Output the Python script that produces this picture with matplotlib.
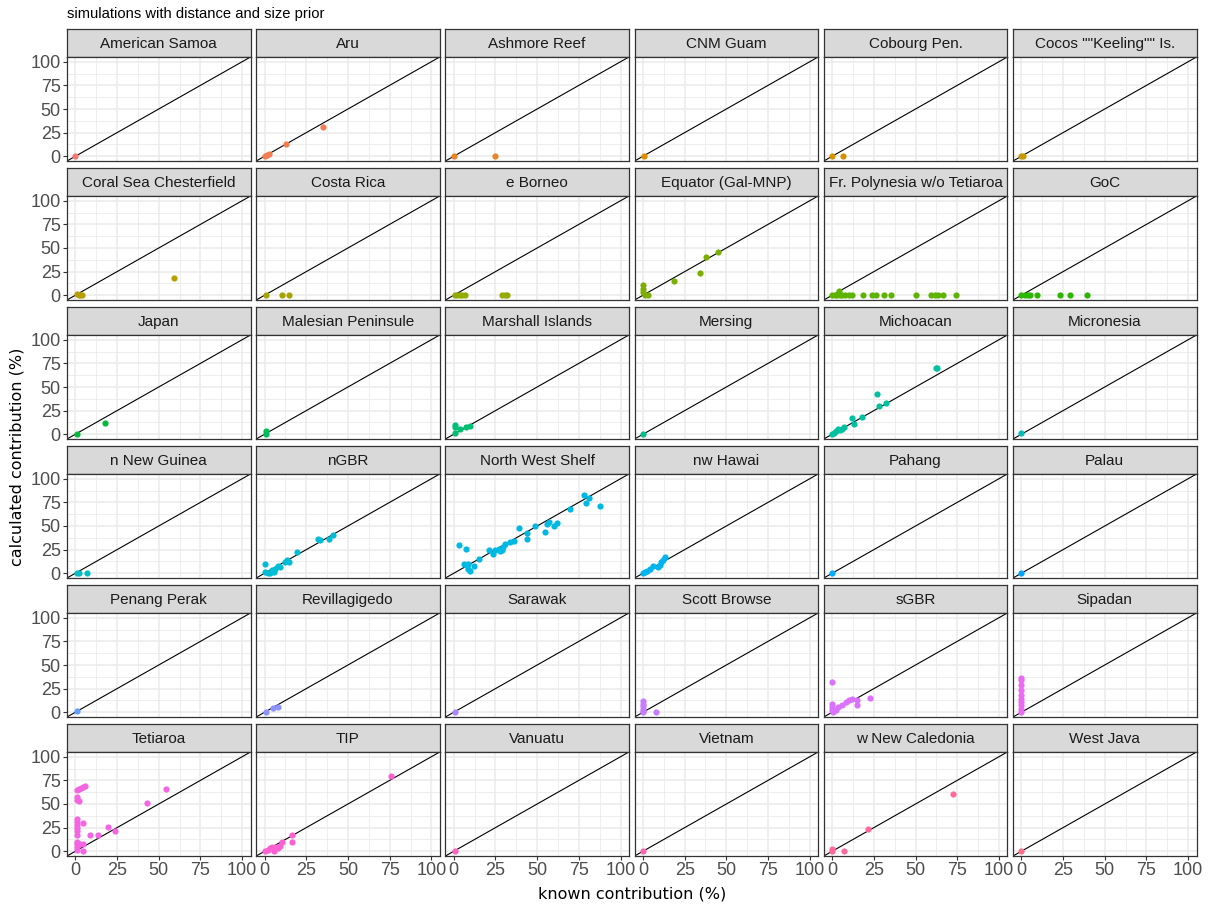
import numpy as np
from matplotlib import pyplot as plt

# facet names, in plotting order
sites = ["American Samoa", "Aru", "Ashmore Reef", "CNM Guam", "Cobourg Pen.", 'Cocos ""Keeling"" Is.',
         "Coral Sea Chesterfield", "Costa Rica", "e Borneo", "Equator (Gal-MNP)",
         "Fr. Polynesia w/o Tetiaroa", "GoC",
         "Japan", "Malesian Peninsule", "Marshall Islands", "Mersing", "Michoacan", "Micronesia",
         "n New Guinea", "nGBR", "North West Shelf", "nw Hawai", "Pahang", "Palau",
         "Penang Perak", "Revillagigedo", "Sarawak", "Scott Browse", "sGBR", "Sipadan",
         "Tetiaroa", "TIP", "Vanuatu", "Vietnam", "w New Caledonia", "West Java"]

# known contribution (%) per site
known_pct = [
    [0],
    [0.5, 1.5, 2.5, 13, 35],
    [0, 25],
    [0.5],
    [0, 6.5],
    [0, 1],
    [1, 2, 3, 4, 59],
    [1, 10.7, 14.5],
    [0.5, 2, 3.5, 5, 6.5, 29, 30.5, 32],
    [0.3, 0.3, 0.3, 1, 3, 18.8, 34, 37.6, 45],
    [0, 1.5, 3, 4.3, 4.5, 6, 8, 10, 12, 18.6, 24, 26.4, 31, 35, 50, 59, 61.4, 63.3, 66.4, 74.3],
    [0, 2, 4, 5, 9.5, 23.3, 29.3, 39.5],
    [0.7, 17.9],
    [0.7, 0.7],
    [0.5, 0.5, 0.5, 3.6, 7.1, 9.5],
    [0.3],
    [0, 1.4, 2.6, 3.8, 5, 6.2, 7.4, 11.9, 13.1, 17.6, 26.9, 28.3, 32.4, 62.4, 63],
    [0],
    [0.7, 2.4, 7],
    [0.5, 0.5, 2, 3.3, 4.5, 5.7, 6.2, 8, 9.3, 12.4, 13.3, 14.8, 19.3, 31.9, 33, 38.6, 41],
    [3.3, 7.1, 6.4, 7.6, 8.3, 9.5, 8.8, 12.4, 15, 21, 23.8, 25, 26.9, 27.9, 29, 29.8, 30.5,
     34, 36.4, 39.3, 44, 44, 48.8, 54.8, 56, 57, 60.2, 61.9, 69.5, 77.9, 79.3, 81, 87.4],
    [0, 1.2, 2.6, 4.3, 6, 9, 10, 10.7, 11.9, 13.1],
    [0],
    [0],
    [0.7],
    [0.7, 5, 8.3],
    [0.5],
    [0, 0, 0, 0, 0, 0, 8],
    [0, 0, 0, 0, 0.7, 2.6, 3.8, 5.7, 8.6, 10.2, 12.1, 15.2, 15.2, 22.9],
    [0, 0, 0, 0, 0, 0, 0, 0, 0, 0],
    [0.7, 2.1, 3.1, 4.3, 5.5, 0.7, 1.2, 2.1, 0.7, 0.7, 4.3, 0.7, 1.2, 1.2, 1.2, 0.7, 0.7, 2.6,
     4.3, 0.7, 0.7, 4.8, 8.6, 13.5, 19.3, 23.5, 43.2, 54.6],
    [0.5, 1.9, 3.3, 4.5, 5.7, 6.9, 8.1, 5.7, 9.3, 10.5, 16.4, 16.4, 76],
    [0.5],
    [0.2],
    [0, 0, 7, 21.7, 72.6],
    [0],
]

# calculated contribution (%) per site
calc_pct = [
    [0],
    [0.5, 1, 2, 12.5, 31],
    [0, 0],
    [0],
    [0, 0],
    [0, 0.5],
    [1, 0.5, 0, 0, 18],
    [0, 0, 0],
    [0, 0, 0, 0, 0, 0, 0, 0],
    [10.6, 6.7, 3.9, 0.4, 0, 15.1, 23.6, 40, 45.8],
    [0, 0, 0, 4.6, 0, 0, 0, 0, 0, 0, 0, 0, 0, 0, 0, 0, 0, 0, 0, 0],
    [0, 0, 0, 0, 0, 0, 0, 0],
    [0.7, 12.3],
    [3.2, 0.7],
    [9.5, 7.7, 1, 6, 7.7, 8.5],
    [0.7],
    [0.7, 1.8, 3.5, 6, 4.6, 5.3, 8.1, 16.9, 10.9, 18, 43, 30.3, 32.7, 70.4, 70.4],
    [1.8],
    [0, 0, 0],
    [10.3, 1.4, 0, 0.4, 3.2, 1.4, 5, 7.4, 6.7, 12, 14.5, 11.7, 23, 36.2, 35, 36.5, 40],
    [29.4, 26.2, 9.6, 8.5, 5, 2.1, 9.6, 7.4, 15.6, 24.5, 20.9, 24.5, 26.2, 23.4, 24.5, 28, 30.9,
     33.3, 34.4, 48.2, 36.2, 42.2, 50.4, 44, 52.1, 53.9, 50.4, 52.8, 68.4, 82.6, 74.1, 80.1, 71.6],
    [0, 1.8, 2.8, 4.3, 8.2, 7.1, 8.9, 12.4, 14.2, 17],
    [0],
    [0],
    [1],
    [0, 4, 5.7],
    [0],
    [12, 9.2, 6.3, 3.9, 1.4, 0, 0],
    [31.5, 8.5, 5.6, 2, 0.4, 2, 5.6, 7.4, 11, 12.7, 14.5, 7.4, 12.7, 15.6],
    [36.5, 34, 28.6, 23.3, 18, 14.4, 11, 7.4, 3.9, 0.4],
    [65.2, 65.6, 67, 68.4, 69.5, 57, 54.6, 52.8, 34, 30.9, 29.8, 27.3, 24.5, 21.6, 16.7, 10.3,
     7.4, 7.4, 7.4, 4.6, 1.8, 0, 17, 17, 25.5, 21.3, 51.1, 66],
    [0.7, 1.4, 3.2, 5, 3.2, 5, 3.9, 0.7, 5.7, 10.3, 17.4, 10.3, 79.4],
    [0],
    [0],
    [2.5, 0, 0, 23.4, 60.6],
    [0],
]

ticks = [0, 25, 50, 75, 100]
minor = [12.5, 37.5, 62.5, 87.5]


def hue_color(h, c=100, l=65):
    # ggplot2 default hue palette colour (polar Luv -> sRGB)
    hr = np.deg2rad(h)
    u, v = c * np.cos(hr), c * np.sin(hr)
    xn, yn, zn = 95.047, 100.0, 108.883
    y = yn * ((l + 16) / 116) ** 3
    den = xn + 15 * yn + 3 * zn
    up = u / (13 * l) + 4 * xn / den
    vp = v / (13 * l) + 9 * yn / den
    x = y * 9 * up / (4 * vp)
    z = y * (12 - 3 * up - 20 * vp) / (4 * vp)
    m = np.array([[3.2404542, -1.5371385, -0.4985314],
                  [-0.9692660, 1.8760108, 0.0415560],
                  [0.0556434, -0.2040259, 1.0572252]])
    rgb = m @ (np.array([x, y, z]) / 100)
    rgb = np.clip(rgb, 0, None)
    rgb = np.where(rgb <= 0.0031308, 12.92 * rgb, 1.055 * rgb ** (1 / 2.4) - 0.055)
    return np.clip(rgb, 0, 1)


W, H = 1210, 909
fig = plt.figure(figsize=(W / 100, H / 100), dpi=100)
FONT = ['Liberation Sans', 'DejaVu Sans']


def box(left, top, w, h):
    return [left / W, 1 - (top + h) / H, w / W, h / H]


n = len(sites)
for i, site in enumerate(sites):
    r, c = divmod(i, 6)
    left = 67 + 189.2 * c
    strip_top = 29 + 139 * r
    pw = 183.5

    # strip
    sax = fig.add_axes(box(left, strip_top, pw, 28))
    sax.set_facecolor('#D9D9D9')
    sax.set_xticks([])
    sax.set_yticks([])
    for sp in sax.spines.values():
        sp.set_color('#333333')
        sp.set_linewidth(0.9)
    sax.text(0.5, 0.47, site, ha='center', va='center', fontsize=11,
             color='#1A1A1A', family=FONT, transform=sax.transAxes)

    # panel
    ax = fig.add_axes(box(left, strip_top + 28, pw, 104))
    ax.set_xlim(-5, 105)
    ax.set_ylim(-5, 105)
    for t in minor:
        ax.axvline(t, color='#EBEBEB', lw=0.6, zorder=0)
        ax.axhline(t, color='#EBEBEB', lw=0.6, zorder=0)
    for t in ticks:
        ax.axvline(t, color='#EBEBEB', lw=1.1, zorder=0)
        ax.axhline(t, color='#EBEBEB', lw=1.1, zorder=0)
    ax.plot([-5, 105], [-5, 105], color='black', lw=0.8, zorder=2)
    ax.scatter(known_pct[i], calc_pct[i], s=20, color=hue_color(15 + 360 / n * i),
               linewidths=0, zorder=3)
    for sp in ax.spines.values():
        sp.set_color('#333333')
        sp.set_linewidth(0.9)
    ax.set_xticks(ticks)
    ax.set_yticks(ticks)
    ax.tick_params(length=3, width=0.8, color='#333333', labelsize=13,
                   labelcolor='#4D4D4D', pad=1.5)
    if c != 0:
        ax.tick_params(axis='y', left=False, labelleft=False)
    if r != 5:
        ax.tick_params(axis='x', bottom=False, labelbottom=False)
    for lab in ax.get_xticklabels() + ax.get_yticklabels():
        lab.set_family(FONT)

fig.text(67 / W, 1 - 14 / H, "simulations with distance and size prior", ha='left',
         va='center', fontsize=10.6, family=FONT, color='black')
fig.text(17 / W, 1 - 457 / H, "calculated contribution (%)", rotation=90, ha='center',
         va='center', fontsize=11.5, family='DejaVu Sans', color='black')
fig.text(632 / W, 1 - 894 / H, "known contribution (%)", ha='center', va='center',
         fontsize=11.5, family='DejaVu Sans', color='black')

plt.savefig("out.png", dpi=100)
